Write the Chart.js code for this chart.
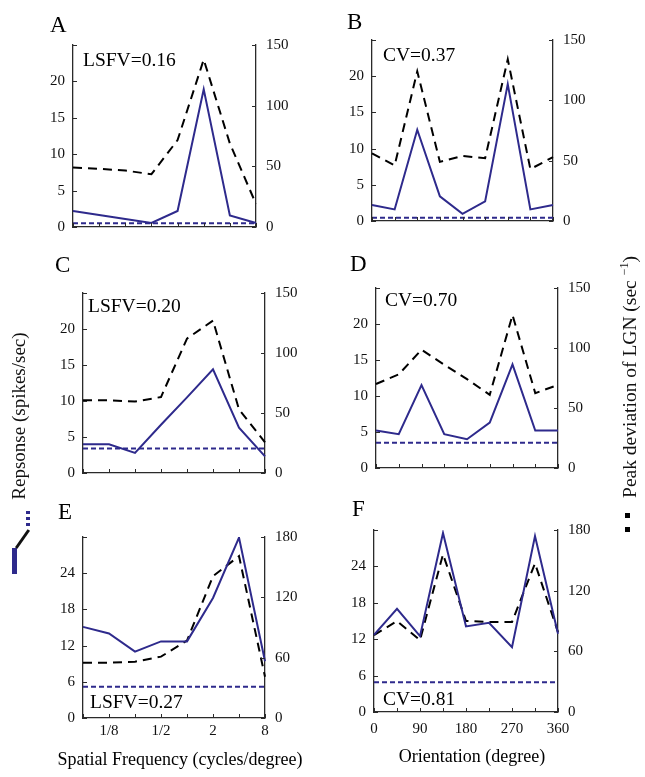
<!DOCTYPE html>
<html><head><meta charset="utf-8">
<script src="https://cdn.jsdelivr.net/npm/chart.js@4/dist/chart.umd.min.js"></script>
<style>
html,body{margin:0;padding:0;background:#fff;}
#wrap{position:relative;width:645px;height:777px;overflow:hidden;font-family:"Liberation Serif",serif;}
.pan{position:absolute;}
</style></head>
<body><div id="wrap"></div>
<script>
// ---- data ----
const sfLabels = ['1/16','1/8','1/4','1/2','1','2','4','8'];
const sfShown = ['1/8','1/2','2','8'];
const oriLabels = ['0','45','90','135','180','225','270','315','360'];
const oriShown = ['0','90','180','270','360'];

const respA = [2.2, 1.65, 1.1, 0.55, 2.2, 18.9, 1.6, 0.55];
const lgnA  = [49, 48, 46.5, 43.5, 71.6, 138, 68.8, 19];
const baseA = 0.5;

const respB = [2.2, 1.6, 12.6, 3.4, 1.0, 2.7, 18.9, 1.6, 2.2];
const lgnB  = [56, 46, 124, 49, 54, 52, 134, 43, 53];
const baseB = 0.45;

const respC = [4.0, 4.0, 2.8, 6.7, 10.5, 14.4, 6.3, 2.3];
const lgnC  = [60.6, 60.6, 59.5, 63.3, 112, 127, 53, 25.6];
const baseC = 3.4;

const respD = [5.2, 4.7, 11.5, 4.7, 4.0, 6.3, 14.4, 5.2, 5.2];
const lgnD  = [70, 78, 98.6, 86, 74, 61, 127.5, 62.4, 69.2];
const baseD = 3.5;

const respE = [15.1, 14.0, 11.0, 12.7, 12.7, 19.9, 29.9, 9.4];
const lgnE  = [55, 55, 56, 61, 77, 141, 161, 41];
const baseE = 5.2;

const respF = [12.7, 17.0, 12.5, 29.5, 14.1, 14.7, 10.7, 29.0, 12.9];
const lgnF  = [76, 90, 71, 156, 90, 89, 89, 147, 79];
const baseF = 4.9;

const notes = ['LSFV=0.16','CV=0.37','LSFV=0.20','CV=0.70','LSFV=0.27','CV=0.81'];
const letters = ['A','B','C','D','E','F'];
const xTitles = ['Spatial Frequency (cycles/degree)','Orientation (degree)'];
const yTitleLeft = 'Repsonse (spikes/sec)';
const yTitleRight = 'Peak deviation of LGN (sec <sup style="font-size:12px">−1</sup>)';

// ---- styles / layout ----
const BLUE = 'rgb(46,42,140)';
const AX = '#2a2a2a';
const FONT = '"Liberation Serif", "Times New Roman", serif';
Chart.defaults.font.family = FONT;
Chart.defaults.color = '#111';

const PADL = 55, PADR = 55, PADT = 40, PADB = 60;

const deco = {
  id: 'deco',
  afterDraw(chart, args, o) {
    const {ctx, chartArea: ca} = chart;
    ctx.save();
    ctx.strokeStyle = AX; ctx.lineWidth = 1;
    ['x','yL','yR'].forEach(id => {
      const s = chart.scales[id];
      s.ticks.forEach((t, i) => {
        const p = Math.round(s.getPixelForTick(i)) + 0.5;
        ctx.beginPath();
        if (id === 'x') { ctx.moveTo(p, ca.bottom); ctx.lineTo(p, ca.bottom - 4); }
        else if (id === 'yL') { ctx.moveTo(ca.left, p); ctx.lineTo(ca.left + 4, p); }
        else { ctx.moveTo(ca.right, p); ctx.lineTo(ca.right - 4, p); }
        ctx.stroke();
      });
    });
    ctx.fillStyle = '#000';
    ctx.textBaseline = 'middle'; ctx.textAlign = 'left';
    ctx.font = '23px ' + FONT;
    ctx.fillText(o.letter, ca.left + o.lx, ca.top + o.ly);
    ctx.font = '19.5px ' + FONT;
    ctx.fillText(o.note, ca.left + o.nx, o.fromBottom ? ca.bottom + o.ny : ca.top + o.ny);
    if (o.xtitle) {
      ctx.font = '18px ' + FONT; ctx.textAlign = 'center';
      ctx.fillText(o.xtitle, (ca.left + ca.right) / 2 + o.tx, ca.bottom + o.ty);
    }
    ctx.restore();
  }
};

const panels = [
  {L:73, R:256, T:45, B:227, labels: sfLabels, shown: [], resp: respA, lgn: lgnA, base: baseA,
   lmax:25, lstep:5, rmax:150, rstep:50, letter: letters[0], lx:-23, ly:-19, note: notes[0], nx:10, ny:16, xpad:6},
  {L:372, R:553, T:40, B:221, labels: oriLabels, shown: [], resp: respB, lgn: lgnB, base: baseB,
   lmax:25, lstep:5, rmax:150, rstep:50, letter: letters[1], lx:-25, ly:-17, note: notes[1], nx:11, ny:16, xpad:6},
  {L:83, R:265, T:293, B:473, labels: sfLabels, shown: [], resp: respC, lgn: lgnC, base: baseC,
   lmax:25, lstep:5, rmax:150, rstep:50, letter: letters[2], lx:-28, ly:-27, note: notes[2], nx:5, ny:14, xpad:6},
  {L:376, R:558, T:288, B:468, labels: oriLabels, shown: [], resp: respD, lgn: lgnD, base: baseD,
   lmax:25, lstep:5, rmax:150, rstep:50, letter: letters[3], lx:-26, ly:-23, note: notes[3], nx:9, ny:13, xpad:6},
  {L:83, R:265, T:537, B:718, labels: sfLabels, shown: sfShown, resp: respE, lgn: lgnE, base: baseE,
   lmax:30, lstep:6, rmax:180, rstep:60, letter: letters[4], lx:-25, ly:-24, note: notes[4], nx:7, ny:-15, fromBottom:true,
   xtitle: xTitles[0], tx:6, ty:42, xpad:4},
  {L:374, R:558, T:530, B:712, labels: oriLabels, shown: oriShown, resp: respF, lgn: lgnF, base: baseF,
   lmax:30, lstep:6, rmax:180, rstep:60, letter: letters[5], lx:-22, ly:-20, note: notes[5], nx:9, ny:-12, fromBottom:true,
   xtitle: xTitles[1], tx:6, ty:45, xpad:8}
];

const wrap = document.getElementById('wrap');

panels.forEach(g => {
  const div = document.createElement('div');
  div.className = 'pan';
  const w = g.R - g.L + PADL + PADR, h = g.B - g.T + PADT + PADB;
  div.style.left = (g.L - PADL) + 'px';
  div.style.top = (g.T - PADT) + 'px';
  div.style.width = w + 'px'; div.style.height = h + 'px';
  const cv = document.createElement('canvas');
  cv.width = w; cv.height = h;
  cv.style.width = w + 'px'; cv.style.height = h + 'px';
  div.appendChild(cv); wrap.appendChild(div);
  const base = g.labels.map(() => g.base);
  new Chart(cv, {
    type: 'line',
    data: {
      labels: g.labels,
      datasets: [
        {data: g.resp, yAxisID: 'yL', borderColor: BLUE, borderWidth: 2, pointRadius: 0, tension: 0},
        {data: base, yAxisID: 'yL', borderColor: BLUE, borderWidth: 2, borderDash: [5, 3], pointRadius: 0},
        {data: g.lgn, yAxisID: 'yR', borderColor: '#000', borderWidth: 2, borderDash: [9, 6], pointRadius: 0, tension: 0}
      ]
    },
    options: {
      responsive: false, maintainAspectRatio: false, animation: false,
      devicePixelRatio: 1,
      layout: {padding: {top: PADT, left: 0, right: 0, bottom: 0}},
      plugins: {legend: {display: false}, tooltip: {enabled: false},
        deco: {letter: g.letter, lx: g.lx, ly: g.ly, note: g.note, nx: g.nx, ny: g.ny,
               fromBottom: !!g.fromBottom, xtitle: g.xtitle || '', tx: g.tx || 0, ty: g.ty || 0}},
      scales: {
        x: {type: 'category', offset: false,
            grid: {display: true, drawOnChartArea: false, drawTicks: false},
            border: {display: true, color: AX, width: 1.3},
            ticks: {autoSkip: false, maxRotation: 0, padding: g.xpad, font: {size: 15}, color: '#111',
              callback: function(v) { const l = this.getLabelForValue(v); return g.shown.includes(l) ? l : ''; }},
            afterFit: s => { s.height = PADB; }},
        yL: {position: 'left', min: 0, max: g.lmax,
            grid: {display: true, drawOnChartArea: false, drawTicks: false},
            border: {display: true, color: AX, width: 1.3},
            ticks: {stepSize: g.lstep, padding: 8, font: {size: 15}, color: '#111',
              callback: v => v === g.lmax ? '' : v},
            afterFit: s => { s.width = PADL; }},
        yR: {position: 'right', min: 0, max: g.rmax,
            grid: {display: true, drawOnChartArea: false, drawTicks: false},
            border: {display: true, color: AX, width: 1.3},
            ticks: {stepSize: g.rstep, padding: 10, font: {size: 15}, color: '#111'},
            afterFit: s => { s.width = PADR; }}
      }
    },
    plugins: [deco]
  });
});

// side labels (HTML text)
function addEl(html, css) { const d = document.createElement('div'); d.innerHTML = html; d.style.cssText = css; wrap.appendChild(d); return d; }
addEl(yTitleLeft, 'position:absolute;left:19px;top:416px;white-space:nowrap;transform:translate(-50%,-50%) rotate(-90deg);font-size:19px;color:#111;font-family:' + FONT);
addEl(yTitleRight, 'position:absolute;left:629px;top:377px;white-space:nowrap;transform:translate(-50%,-50%) rotate(-90deg);font-size:19.5px;color:#111;font-family:' + FONT);
// legend glyphs
addEl('', 'position:absolute;left:12px;top:548px;width:4.5px;height:26px;background:' + BLUE);
addEl('', 'position:absolute;left:21px;top:528px;width:3px;height:22px;background:#111;transform:rotate(35deg);');
addEl('', 'position:absolute;left:26px;top:511px;width:4px;height:16px;background:repeating-linear-gradient(to bottom,' + BLUE + ' 0 3.5px,transparent 3.5px 6px);');
addEl('', 'position:absolute;left:625px;top:513px;width:5px;height:5px;background:#000');
addEl('', 'position:absolute;left:625px;top:527px;width:5px;height:5px;background:#000');
</script></body></html>
